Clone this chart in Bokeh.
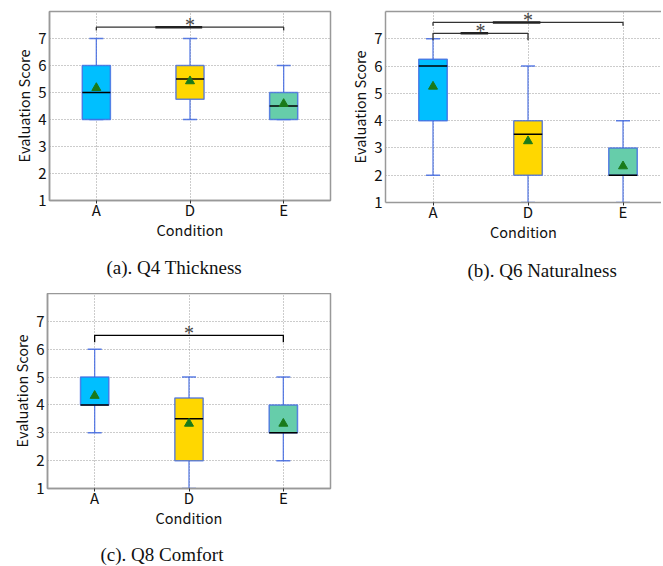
import numpy as np
from bokeh.plotting import figure
from bokeh.layouts import column, row
from bokeh.models import FixedTicker, Title, LinearAxis, Range1d
from bokeh.core.properties import value
from bokeh.embed import file_html
from bokeh.resources import INLINE

categories = ["A", "D", "E"]
colors = ["#00BFFF", "#FFD700", "#66CDAA"]
y_ticks = [1, 2, 3, 4, 5, 6, 7]

# Q4 Thickness
q4_low = [4, 4, 4]
q4_q1 = [4, 4.75, 4]
q4_med = [5, 5.5, 4.5]
q4_q3 = [6, 6, 5]
q4_high = [7, 7, 6]
q4_mean = [5.17, 5.42, 4.58]
q4_sig = [(0, 2, 7.42)]

# Q6 Naturalness
q6_low = [2, 1, 1]
q6_q1 = [4, 2, 2]
q6_med = [6, 3.5, 2]
q6_q3 = [6.25, 4, 3]
q6_high = [7, 6, 4]
q6_mean = [5.25, 3.25, 2.33]
q6_sig = [(0, 1, 7.2), (0, 2, 7.6)]

# Q8 Comfort
q8_low = [3, 1, 2]
q8_q1 = [4, 2, 3]
q8_med = [4, 3.5, 3]
q8_q3 = [5, 4.25, 4]
q8_high = [6, 5, 5]
q8_mean = [4.33, 3.33, 3.33]
q8_sig = [(0, 2, 6.5)]

SANS = "Noto Sans CJK JP"
SERIF = "Liberation Serif"
BOX_W = 0.3


def make_panel(low, q1, med, q3, high, mean, sig, caption, cap_offset,
               frame_w, frame_h, x_end, top_b, left_b, right_b, bottom_b,
               bar_color, thick, cap_standoff, full_outline=True):
    p = figure(frame_width=frame_w, frame_height=frame_h,
               x_range=Range1d(-0.5, x_end), y_range=Range1d(1, 8),
               output_backend="svg", toolbar_location=None,
               min_border_left=left_b, min_border_right=right_b,
               min_border_top=top_b, min_border_bottom=bottom_b)
    p.background_fill_color = "white"
    p.border_fill_color = "white"
    xs = np.arange(len(categories), dtype=float)

    p.xaxis.ticker = FixedTicker(ticks=list(xs))
    p.xaxis.major_label_overrides = {i: c for i, c in enumerate(categories)}
    p.yaxis.ticker = FixedTicker(ticks=y_ticks)
    for ax in (p.xaxis[0], p.yaxis[0]):
        ax.major_label_text_font = SANS
        ax.major_label_text_font_size = "15px"
        ax.major_label_text_color = "#111111"
        ax.axis_label_text_font = SANS
        ax.axis_label_text_font_size = "14.5px"
        ax.axis_label_text_font_style = "normal"
        ax.axis_label_text_color = "#111111"
        ax.axis_line_color = "#999999"
        ax.axis_line_width = 1.5
        ax.minor_tick_line_color = None
        ax.major_tick_line_color = "#333333"
        ax.major_tick_in = 0
    p.xaxis.axis_label = "Condition"
    p.yaxis.axis_label = "Evaluation Score"
    p.xaxis.major_tick_out = 3
    p.xaxis.major_label_standoff = -5
    p.xaxis.axis_label_standoff = -4
    p.yaxis.major_tick_out = 0
    p.yaxis.major_label_standoff = 3
    p.yaxis.axis_label_standoff = 1

    p.xgrid.ticker = FixedTicker(ticks=list(xs))
    p.ygrid.ticker = FixedTicker(ticks=y_ticks)
    for g in (p.xgrid[0], p.ygrid[0]):
        g.grid_line_color = "#999999"
        g.grid_line_dash = "1 2"
        g.grid_line_width = 1

    if full_outline:
        p.outline_line_color = "#999999"
        p.outline_line_width = 1.5
    else:
        p.outline_line_color = None
        top_ax = LinearAxis(ticker=FixedTicker(ticks=[]), major_label_text_font_size="0px",
                            major_tick_line_color=None, minor_tick_line_color=None,
                            axis_line_color="#999999", axis_line_width=1.5)
        p.add_layout(top_ax, "above")

    low = np.array(low, float); q1 = np.array(q1, float); med = np.array(med, float)
    q3 = np.array(q3, float); high = np.array(high, float); mean = np.array(mean, float)

    p.segment(x0=xs, y0=q3, x1=xs, y1=high, line_color="#4169E1", line_width=1.3, line_alpha=0.85)
    p.segment(x0=xs, y0=low, x1=xs, y1=q1, line_color="#4169E1", line_width=1.3, line_alpha=0.85)
    p.scatter(x=xs, y=high, marker="dash", size=14, line_color="#4169E1", line_width=1.5, line_alpha=0.85)
    p.scatter(x=xs, y=low, marker="dash", size=14, line_color="#4169E1", line_width=1.5, line_alpha=0.85)
    p.vbar(x=xs, bottom=q1, top=q3, width=BOX_W, fill_color=colors,
           line_color="#4169E1", line_width=1.5, line_alpha=0.8)
    p.segment(x0=xs - BOX_W / 2, y0=med, x1=xs + BOX_W / 2, y1=med,
              line_color="black", line_width=1.5)
    p.scatter(x=xs, y=mean, marker="triangle", size=9, fill_color="#1a7a1a",
              line_color="#1a7a1a")

    for (i, j, h) in sig:
        xa, xb = xs[i], xs[j]
        drop = 0.25 if h < 7.3 else 0.12
        p.line(x=[xa, xa, xb, xb], y=[h - drop, h, h, h - drop], line_color=bar_color, line_width=1.3)
        mid = (xa + xb) / 2
        if thick:
            p.segment(x0=[mid - 0.32 * (xb - xa) / 2 - 0.05], y0=[h], x1=[mid + 0.1 * (xb - xa) / 2 + 0.03], y1=[h],
                      line_color="#222222", line_width=2.5)
        p.text(x=[mid], y=[h], text=["*"], text_font=value(SERIF), text_font_size="20px",
               text_align="center", text_baseline="alphabetic", y_offset=-2, text_color="#444444")

    p.add_layout(Title(text=caption, align="left", offset=cap_offset, text_font=SERIF,
                       text_font_size="19px", text_font_style="normal", text_color="#111111",
                       standoff=cap_standoff), "below")
    return p


p1 = make_panel(q4_low, q4_q1, q4_med, q4_q3, q4_high, q4_mean, q4_sig,
                "(a). Q4 Thickness", 57, 281, 189, 2.5, 11, 49, 8, 85, "#333333", True, 25)
p2 = make_panel(q6_low, q6_q1, q6_med, q6_q3, q6_high, q6_mean, q6_sig,
                "(b). Q6 Naturalness", 82, 276, 191, 2.405, 11, 47, 0, 83, "#333333", True, 26,
                full_outline=False)
p3 = make_panel(q8_low, q8_q1, q8_med, q8_q3, q8_high, q8_mean, q8_sig,
                "(c). Q8 Comfort", 53, 283, 195, 2.5, 0, 47, 8, 0, "#000000", False, 22)

layout = column(row(p1, p2, spacing=0), p3, spacing=0)
open("out.html", "w").write(file_html(layout, INLINE))
